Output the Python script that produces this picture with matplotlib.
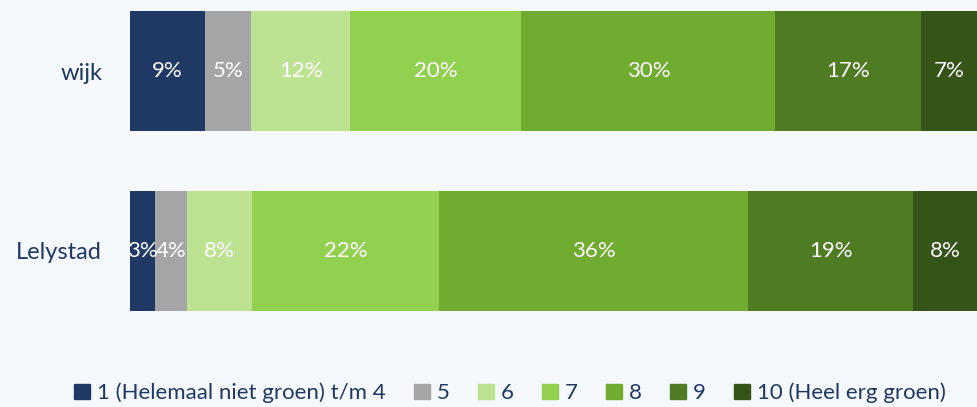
import numpy as np
from matplotlib import pyplot as plt
from matplotlib.patches import Patch

# Data
categories = ["wijk", "Lelystad"]
series = ["1 (Helemaal niet groen) t/m 4", "5", "6", "7", "8", "9", "10 (Heel erg groen)"]
wijk = [8.9, 5.4, 11.7, 20.2, 30.0, 17.2, 6.6]
lelystad = [2.9, 3.8, 7.7, 22.1, 36.49, 19.49, 7.52]
colors = ["#1F3864", "#A5A5A5", "#BCE292", "#92D050", "#6FAC2F", "#4F7B22", "#365318"]

values = np.array([wijk, lelystad])
bg = "#F5F8FC"
txt = "#1F3864"

plt.rcParams['font.family'] = ['Lato', 'DejaVu Sans']

fig = plt.figure(figsize=(9.77, 4.07), dpi=100, facecolor=bg)
ax = fig.add_axes([130 / 977, 96 / 407, 847 / 977, 300 / 407])
ax.set_facecolor(bg)

y = np.arange(len(categories))
left = np.zeros(len(categories))
for i, name in enumerate(series):
    ax.barh(y, values[:, i], left=left, height=0.667, color=colors[i],
            edgecolor="none", label=name)
    for j in range(len(categories)):
        ax.text(left[j] + values[j, i] / 2, y[j], "%d%%" % round(values[j, i]),
                ha="center", va="center", color="white", fontsize=16)
    left += values[:, i]

ax.set_xlim(0, 100)
ax.set_ylim(1.3335, -0.3335)
ax.set_yticks(y)
ax.set_yticklabels(categories, fontsize=17, color=txt)
ax.tick_params(axis="y", length=0, pad=20)
ax.set_xticks([])
for s in ax.spines.values():
    s.set_visible(False)

handles = [Patch(color=c, label=n) for c, n in zip(colors, series)]
fig.legend(handles=handles, loc="center", bbox_to_anchor=(0.522, 0.034), ncol=7,
           frameon=False, fontsize=16, labelcolor=txt, handlelength=0.7,
           handleheight=0.7, handletextpad=0.3, columnspacing=1.3)

plt.savefig("out.png", facecolor=bg)
